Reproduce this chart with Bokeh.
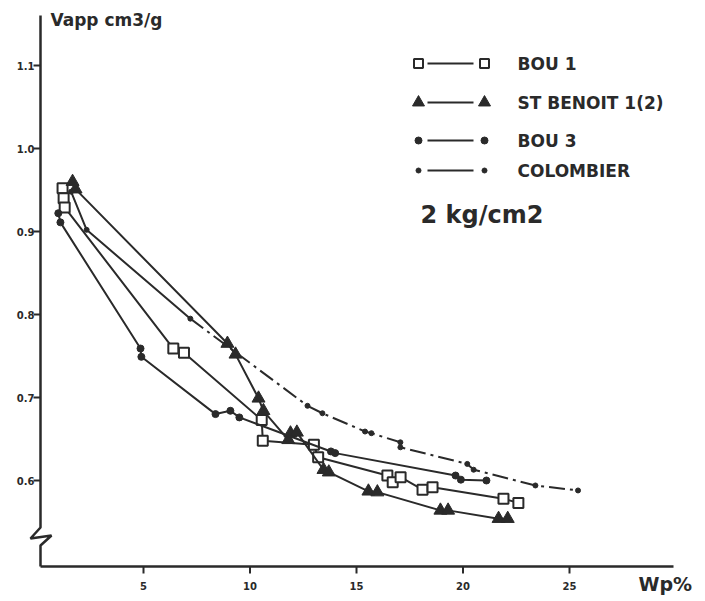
from bokeh.plotting import figure
from bokeh.models import Range1d, FixedTicker, Label
from bokeh.core.properties import value
from bokeh.embed import file_html
from bokeh.resources import INLINE

# ---------------- data ----------------
bou1_x = [1.2, 1.25, 1.3, 6.4, 6.9, 10.55, 10.6, 13.0, 13.2, 16.45, 16.7, 17.07, 18.1, 18.57, 21.9, 22.6]
bou1_y = [0.952, 0.940, 0.929, 0.759, 0.754, 0.673, 0.648, 0.643, 0.628, 0.606, 0.598, 0.604, 0.589, 0.592, 0.578, 0.573]

stb_x = [1.67, 1.81, 8.94, 9.32, 10.4, 10.63, 11.8, 11.9, 12.2, 13.45, 13.7, 15.56, 15.98, 18.94, 19.3, 21.67, 22.1]
stb_y = [0.960, 0.951, 0.765, 0.752, 0.699, 0.684, 0.649, 0.657, 0.658, 0.613, 0.610, 0.587, 0.586, 0.564, 0.564, 0.554, 0.554]

bou3_x = [1.0, 1.1, 4.86, 4.9, 8.38, 9.08, 9.5, 13.8, 14.0, 19.65, 19.9, 21.1]
bou3_y = [0.922, 0.911, 0.759, 0.749, 0.680, 0.684, 0.676, 0.635, 0.633, 0.606, 0.601, 0.600]

col_x = [1.6, 2.33, 7.2, 12.7, 13.4, 15.4, 15.7, 17.06, 17.06, 20.2, 20.5, 23.4, 25.4]
col_y = [0.948, 0.902, 0.795, 0.690, 0.681, 0.659, 0.657, 0.646, 0.640, 0.620, 0.613, 0.594, 0.588]

series_names = ["BOU 1", "ST BENOIT 1(2)", "BOU 3", "COLOMBIER"]
x_ticks = [5, 10, 15, 20, 25]
x_tick_labels = ["5", "10", "15", "20", "25"]
y_ticks = [0.6, 0.7, 0.8, 0.9, 1.0, 1.1]
y_tick_labels = ["0.6", "0.7", "0.8", "0.9", "1.0", "1.1"]
x_label = "Wp%"
y_label = "Vapp cm3/g"
note = "2 kg/cm2"

# ---------------- layout helpers (screen px -> data) ----------------
def px2x(px):
    return (px - 36.5) / 21.3

def py2y(py):
    return 0.6 + (480 - py) / 830.0

INK = "#2a2a2a"
FONT = value("DejaVu Sans")

p = figure(width=703, height=599,
           x_range=Range1d(px2x(26), px2x(703)),
           y_range=Range1d(py2y(599), py2y(10)),
           output_backend="svg", toolbar_location=None,
           min_border_left=26, min_border_right=0,
           min_border_top=10, min_border_bottom=0)
p.grid.visible = False
p.outline_line_color = None
p.background_fill_color = "white"
p.border_fill_color = "white"
p.xaxis.visible = False

p.yaxis.ticker = FixedTicker(ticks=y_ticks)
p.yaxis.major_label_overrides = {t: s for t, s in zip(y_ticks, y_tick_labels)}
p.yaxis.axis_line_color = None
p.yaxis.major_tick_line_color = None
p.yaxis.minor_tick_line_color = None
p.yaxis.major_tick_in = 0
p.yaxis.major_tick_out = 0
p.yaxis.major_label_standoff = -8
p.yaxis.major_label_text_font = "DejaVu Sans"
p.yaxis.major_label_text_font_style = "bold"
p.yaxis.major_label_text_font_size = "10px"
p.yaxis.major_label_text_color = INK

# hand drawn axis lines (with the break on the y axis)
ax_x = px2x(40)
ax_y = py2y(566)
p.line([ax_x, px2x(673)], [ax_y, ax_y], line_color=INK, line_width=2.5)
p.line([ax_x, ax_x, px2x(30), px2x(51), ax_x, ax_x],
       [py2y(15), py2y(527), py2y(538), py2y(535), py2y(545), ax_y],
       line_color=INK, line_width=2.5)
p.segment(x0=[ax_x - 7 / 21.3] * len(y_ticks), x1=[ax_x] * len(y_ticks),
          y0=y_ticks, y1=y_ticks, line_color=INK, line_width=2)
p.segment(x0=x_ticks, x1=x_ticks, y0=[ax_y] * len(x_ticks),
          y1=[py2y(573)] * len(x_ticks), line_color=INK, line_width=2)
p.text(x=x_ticks, y=[py2y(585)] * len(x_ticks), text=x_tick_labels,
       text_font=FONT, text_font_style="bold", text_font_size="10px",
       text_color=INK, text_align="center", text_baseline="middle")

# ---------------- series ----------------
p.line(bou1_x, bou1_y, line_color=INK, line_width=2)
p.scatter(bou1_x, bou1_y, marker="square", size=10, fill_color="white",
          line_color=INK, line_width=2)

p.line(stb_x, stb_y, line_color=INK, line_width=2)
p.scatter(stb_x, stb_y, marker="triangle", size=13, fill_color=INK, line_color=INK)

p.line(bou3_x, bou3_y, line_color=INK, line_width=2)
p.scatter(bou3_x, bou3_y, marker="circle", size=7, fill_color=INK, line_color=INK)

p.line(col_x[:3], col_y[:3], line_color=INK, line_width=2)
p.line(col_x[2:], col_y[2:], line_color=INK, line_width=2, line_dash="16 5 3 5")
p.scatter(col_x, col_y, marker="circle", size=5, fill_color=INK, line_color=INK)

# ---------------- key ----------------
rows_py = [63, 102, 140, 170]
styles = [
    dict(marker="square", size=9, fill_color="white", line_color=INK, line_width=2),
    dict(marker="triangle", size=12, fill_color=INK, line_color=INK),
    dict(marker="circle", size=7, fill_color=INK, line_color=INK),
    dict(marker="circle", size=5, fill_color=INK, line_color=INK),
]
for name, py, st in zip(series_names, rows_py, styles):
    yy = py2y(py)
    p.line([px2x(427), px2x(473)], [yy, yy], line_color=INK, line_width=2)
    p.scatter([px2x(418), px2x(484)], [yy, yy], **st)
    p.add_layout(Label(x=px2x(517), y=yy, text=name, text_font="DejaVu Sans",
                       text_font_style="bold", text_font_size="17px",
                       text_color=INK, text_baseline="middle", text_align="left"))

p.add_layout(Label(x=px2x(420), y=py2y(214), text=note, text_font="DejaVu Sans",
                   text_font_style="bold", text_font_size="24px",
                   text_color=INK, text_baseline="middle", text_align="left"))
p.add_layout(Label(x=px2x(50), y=py2y(19), text=y_label, text_font="DejaVu Sans",
                   text_font_style="bold", text_font_size="17px",
                   text_color=INK, text_baseline="middle", text_align="left"))
p.add_layout(Label(x=px2x(638), y=py2y(583), text=x_label, text_font="DejaVu Sans",
                   text_font_style="bold", text_font_size="19px",
                   text_color=INK, text_baseline="middle", text_align="left"))

open("out.html", "w").write(file_html(p, INLINE))
